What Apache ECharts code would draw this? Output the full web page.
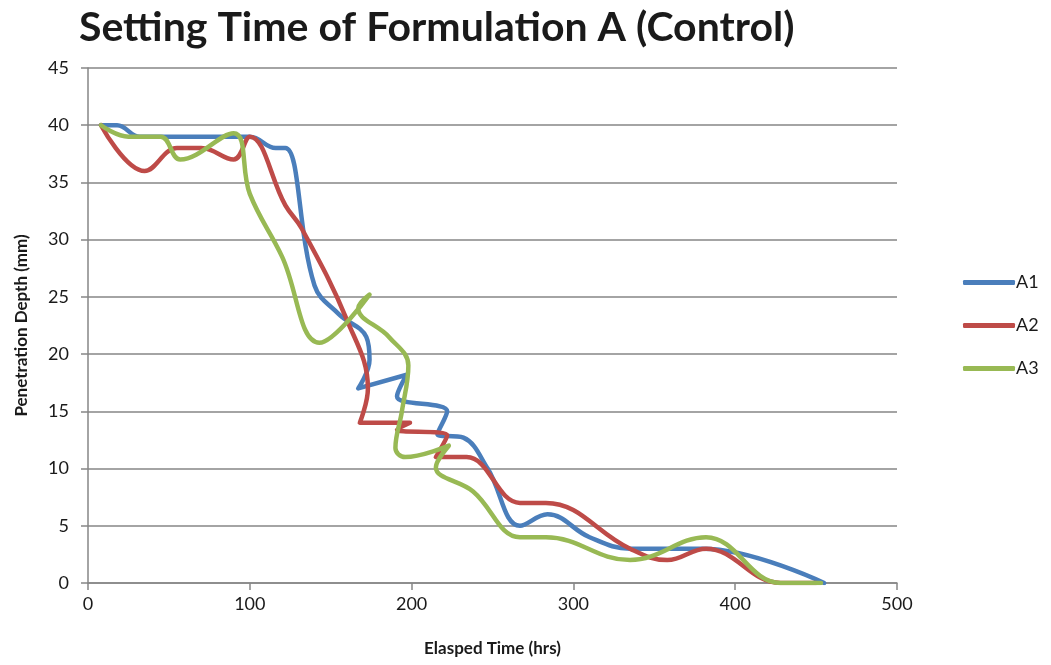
<!DOCTYPE html>
<html>
<head>
<meta charset="utf-8">
<script src="https://cdn.jsdelivr.net/npm/echarts@6/dist/echarts.min.js"></script>
<style>
  html, body { margin: 0; padding: 0; background: #fff; }
  #chart { width: 1051px; height: 665px; }
</style>
</head>
<body>
<div id="chart"></div>
<script>
// 数据
const seriesNames = ['A1', 'A2', 'A3'];
const colors = ['#4A7EBB', '#BE4B48', '#98B954'];

const a1Time  = [8, 18, 32, 100, 116, 122, 140, 155, 172, 174, 167, 197, 191, 222, 216, 232, 247, 267, 284, 310, 335, 380, 455];
const a1Depth = [40, 40, 39, 39, 38, 38, 26, 23.5, 21.5, 19.5, 17, 18.2, 16.3, 15, 13, 12.7, 10, 5, 6, 4, 3, 3, 0];

const a2Time  = [8, 35, 55, 70, 90, 100, 122, 132, 160, 173, 168, 199, 191, 222, 215, 234, 267, 283, 335, 358, 382, 428, 450];
const a2Depth = [40, 36, 38, 38, 37, 39, 33, 31, 23, 17, 14, 14, 13.4, 12.9, 11, 11, 7, 7, 3, 2, 3, 0, 0];

const a3Time  = [8, 25, 45, 57, 90, 100, 120, 143, 174, 167, 186, 198, 194, 190, 196, 223, 215, 238, 267, 283, 335, 382, 428, 453];
const a3Depth = [40, 39, 39, 37, 39.3, 34, 28.5, 21, 25.2, 24, 21.5, 19, 15, 11.8, 11, 12, 10.1, 8, 4, 4, 2, 4, 0, 0];

const xTicks = [0, 100, 200, 300, 400, 500];
const yTicks = [0, 5, 10, 15, 20, 25, 30, 35, 40, 45];

// 拼成 [x, y]
function pairs(xs, ys) {
  return xs.map((x, i) => [x, ys[i]]);
}
const allData = [pairs(a1Time, a1Depth), pairs(a2Time, a2Depth), pairs(a3Time, a3Depth)];

let chart = echarts.init(document.getElementById('chart'));

const axisGray = '#868686';
const font = 'Lato, "Open Sans", sans-serif';

let option = {
  animation: false,
  title: {
    text: 'Setting Time of Formulation A (Control)',
    left: 74,
    top: 2,
    textStyle: { fontFamily: font, fontWeight: 'bold', fontSize: 41, color: '#1a1a1a' }
  },
  legend: {
    orient: 'vertical',
    left: 958,
    top: 268,
    itemWidth: 52,
    itemHeight: 5,
    itemGap: 24,
    icon: 'roundRect',
    data: seriesNames,
    textStyle: { fontFamily: font, fontSize: 18, color: '#1a1a1a', lineHeight: 19, padding: [0, 0, 0, -4] }
  },
  grid: { left: 88, right: 154, top: 68, bottom: 82 },
  xAxis: {
    type: 'value',
    min: xTicks[0],
    max: xTicks[xTicks.length - 1],
    interval: 100,
    name: 'Elasped Time (hrs)',
    nameLocation: 'middle',
    nameGap: 57,
    nameTextStyle: { fontFamily: font, fontWeight: 'bold', fontSize: 17, color: '#1a1a1a' },
    axisLine: { show: true, lineStyle: { color: axisGray, width: 1.5 } },
    axisTick: { show: true, length: 7, lineStyle: { color: axisGray, width: 1.5 } },
    axisLabel: { fontFamily: font, fontSize: 18, color: '#1a1a1a', margin: 12 },
    splitLine: { show: false }
  },
  yAxis: {
    type: 'value',
    min: yTicks[0],
    max: yTicks[yTicks.length - 1],
    interval: 5,
    name: 'Penetration Depth (mm)',
    nameLocation: 'middle',
    nameRotate: 90,
    nameGap: 58,
    nameTextStyle: { fontFamily: font, fontWeight: 'bold', fontSize: 17, color: '#1a1a1a' },
    axisLine: { show: true, lineStyle: { color: axisGray, width: 1.5 } },
    axisTick: { show: true, length: 7, lineStyle: { color: axisGray, width: 1.5 } },
    axisLabel: { fontFamily: font, fontSize: 18, color: '#1a1a1a', margin: 19 },
    splitLine: { show: true, lineStyle: { color: axisGray, width: 1.5 } }
  },
  series: seriesNames.map((name, i) => ({
    name: name,
    type: 'line',
    data: allData[i],
    smooth: 0.4,
    showSymbol: false,
    symbol: 'none',
    color: colors[i],
    lineStyle: { width: 4.5, color: colors[i], cap: 'round', join: 'round' }
  }))
};

chart.setOption(option);
</script>
</body>
</html>
